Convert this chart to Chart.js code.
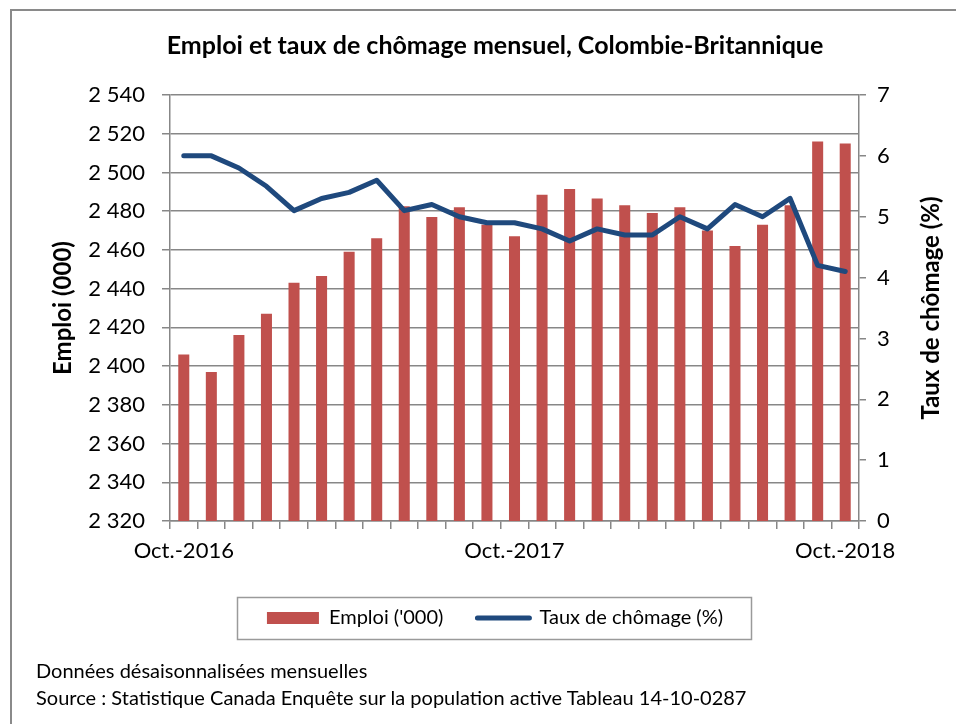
<!DOCTYPE html>
<html>
<head>
<meta charset="utf-8">
<script src="https://cdn.jsdelivr.net/npm/chart.js@4.4.1/dist/chart.umd.min.js"></script>
<style>
  html, body { margin: 0; padding: 0; background: #fff; }
  #wrap { position: relative; width: 956px; height: 724px; overflow: hidden; }
  #frame { position: absolute; left: 10px; top: 9px; width: 1000px; height: 1000px;
           border-left: 2px solid #8a8a8a; border-top: 2px solid #8a8a8a; box-sizing: border-box; }
  #c { position: absolute; left: 0; top: 0; }
  .note { position: absolute; left: 36px; font-family: Lato, sans-serif; font-size: 20px; color: #000; white-space: nowrap; line-height: 24px; }
</style>
</head>
<body>
<div id="wrap">
  <div id="frame"></div>
  <canvas id="c" width="956" height="724"></canvas>
  <div class="note" style="top:658px">Données désaisonnalisées mensuelles</div>
  <div class="note" style="top:685px">Source : Statistique Canada Enquête sur la population active Tableau 14-10-0287</div>
</div>
<script>
const months = ['Oct.-2016','Nov.-2016','Déc.-2016','Janv.-2017','Févr.-2017','Mars-2017','Avr.-2017','Mai-2017','Juin-2017','Juil.-2017','Août-2017','Sept.-2017',
                'Oct.-2017','Nov.-2017','Déc.-2017','Janv.-2018','Févr.-2018','Mars-2018','Avr.-2018','Mai-2018','Juin-2018','Juil.-2018','Août-2018','Sept.-2018','Oct.-2018'];
const emploi = [2406, 2397, 2416, 2427, 2443, 2446.5, 2459, 2466, 2482.5, 2477, 2482, 2473, 2467,
                2488.5, 2491.5, 2486.5, 2483, 2479, 2482, 2470, 2462, 2473, 2483, 2516, 2515];
const chomage = [6.0, 6.0, 5.8, 5.5, 5.1, 5.3, 5.4, 5.6, 5.1, 5.2, 5.0, 4.9, 4.9,
                 4.8, 4.6, 4.8, 4.7, 4.7, 5.0, 4.8, 5.2, 5.0, 5.3, 4.2, 4.1];
const shownLabels = ['Oct.-2016', 'Oct.-2017', 'Oct.-2018'];
const leftTicks = { min: 2320, max: 2540, step: 20 };
const rightTicks = { min: 0, max: 7, step: 1 };

const FONT = 'Lato';
const GRID = '#878787';
const RED = '#C0504D';
const BLUE = '#1F497D';
const RIGHT_TITLE = 'Taux de chômage (%)';

const extras = {
  id: 'extras',
  afterDraw(chart) {
    const ctx = chart.ctx;
    ctx.save();
    ctx.strokeStyle = '#9a9a9a';
    ctx.lineWidth = 1.5;
    ctx.strokeRect(237.5, 597.5, 514, 42);
    // right axis title, reading bottom-to-top
    const s = chart.scales.y2;
    ctx.translate(931, (chart.chartArea.top + chart.chartArea.bottom) / 2);
    ctx.rotate(-Math.PI / 2);
    ctx.fillStyle = '#000';
    ctx.font = 'bold 24px ' + FONT;
    ctx.textAlign = 'center';
    ctx.textBaseline = 'middle';
    ctx.fillText(RIGHT_TITLE, 0, 0);
    ctx.restore();
  }
};

const fmt = v => { const s = String(Math.round(v)); return s.length > 3 ? s.slice(0, s.length - 3) + ' ' + s.slice(-3) : s; };

new Chart(document.getElementById('c'), {
  data: {
    labels: months,
    datasets: [
      { type: 'line', label: 'Taux de chômage (%)', data: chomage, yAxisID: 'y2', order: 0,
        borderColor: BLUE, backgroundColor: BLUE, borderWidth: 5, pointRadius: 0, tension: 0,
        borderCapStyle: 'round', borderJoinStyle: 'round' },
      { type: 'bar', label: "Emploi ('000)", data: emploi, yAxisID: 'y', order: 1,
        backgroundColor: RED, categoryPercentage: 1, barPercentage: 0.4 }
    ]
  },
  options: {
    responsive: false,
    animation: false,
    layout: { padding: { left: 34, right: 0, top: 0, bottom: 86 } },
    plugins: {
      title: { display: true, text: 'Emploi et taux de chômage mensuel, Colombie-Britannique',
               color: '#000', font: { family: FONT, size: 25, weight: 'bold' }, padding: { top: 31, bottom: 34 } },
      legend: {
        position: 'bottom',
        labels: {
          font: { family: FONT, size: 20 }, color: '#000', padding: 34,
          usePointStyle: true, pointStyleWidth: 52, boxHeight: 12,
          generateLabels: (chart) => {
            const ds = chart.data.datasets;
            return [
              { text: ds[1].label, fillStyle: RED, strokeStyle: RED, lineWidth: 0, pointStyle: 'rect', datasetIndex: 1, fontColor: '#000' },
              { text: ds[0].label, fillStyle: BLUE, strokeStyle: BLUE, lineWidth: 5, lineCap: 'round', pointStyle: 'line', datasetIndex: 0, fontColor: '#000' }
            ];
          }
        }
      },
      tooltip: { enabled: false }
    },
    scales: {
      x: {
        offset: true,
        grid: { display: true, drawOnChartArea: false, offset: true, color: GRID, lineWidth: 1.5, tickLength: 8 },
        border: { color: GRID, width: 1.5 },
        ticks: { autoSkip: false, maxRotation: 0, minRotation: 0, padding: 9, color: '#000',
                 font: { family: FONT, size: 22 },
                 callback: function(v, i) { const l = this.getLabelForValue(v); return shownLabels.includes(l) ? l : ''; } },
        afterFit: s => { s.height = 53; }
      },
      y: {
        position: 'left', min: leftTicks.min, max: leftTicks.max,
        grid: { color: GRID, lineWidth: 1.5, tickLength: 8 },
        border: { color: GRID, width: 1.5 },
        ticks: { stepSize: leftTicks.step, padding: 17, color: '#000', font: { family: FONT, size: 22 }, callback: v => fmt(v) },
        title: { display: true, text: 'Emploi (000)', color: '#000', font: { family: FONT, size: 24, weight: 'bold' }, padding: { top: 15, bottom: 0 } },
        afterFit: s => { s.width = 136; }
      },
      y2: {
        position: 'right', min: rightTicks.min, max: rightTicks.max,
        grid: { drawOnChartArea: false, color: GRID, lineWidth: 1.5, tickLength: 7 },
        border: { color: GRID, width: 1.5 },
        ticks: { stepSize: rightTicks.step, padding: 11, color: '#000', font: { family: FONT, size: 22 } },
        title: { display: false },
        afterFit: s => { s.width = 97; }
      }
    }
  },
  plugins: [extras]
});
</script>
</body>
</html>
